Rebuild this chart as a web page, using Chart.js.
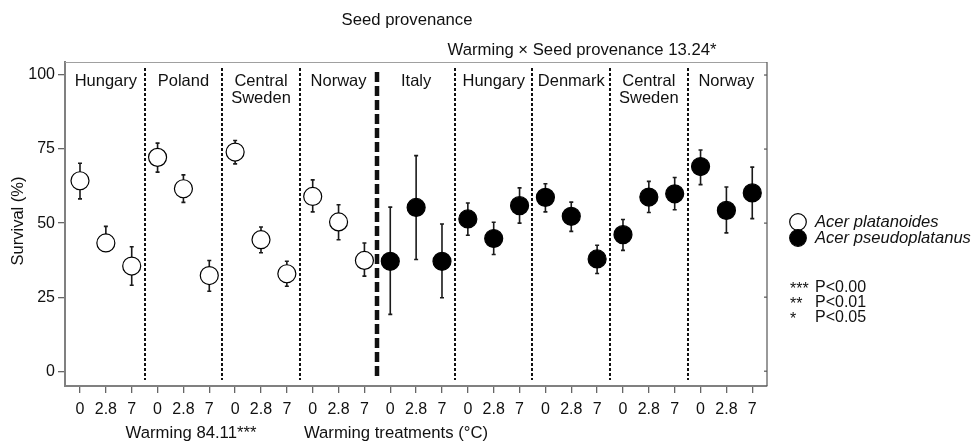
<!DOCTYPE html>
<html>
<head>
<meta charset="utf-8">
<script src="https://cdn.jsdelivr.net/npm/chart.js@4.4.1/dist/chart.umd.min.js"></script>
<style>
html,body{margin:0;padding:0;background:#fff;}
#wrap{width:974px;height:442px;}
</style>
</head>
<body>
<div id="wrap"><canvas id="c" width="974" height="442"></canvas></div>
<script>
// --- data ---
const treatments = ['0', '2.8', '7'];
const provenances = ['Hungary', 'Poland', 'Central\nSweden', 'Norway', 'Italy', 'Hungary', 'Denmark', 'Central\nSweden', 'Norway'];
const species = ['Acer platanoides', 'Acer pseudoplatanus'];

// Acer platanoides: Hungary, Poland, Central Sweden, Norway x (0, 2.8, 7)
const survPlatanoides = [64.3, 43.3, 35.5, 72.2, 61.6, 32.3, 74.0, 44.4, 32.9, 59.0, 50.4, 37.4];
const lowPlatanoides  = [58.2, 40.8, 29.0, 67.2, 57.0, 27.0, 70.0, 40.0, 28.7, 53.8, 44.4, 32.1];
const highPlatanoides = [70.2, 48.9, 42.0, 77.0, 66.3, 37.4, 77.9, 48.7, 37.1, 64.6, 56.2, 43.3];

// Acer pseudoplatanus: Italy, Hungary, Denmark, Central Sweden, Norway x (0, 2.8, 7)
const survPseudo = [37.1, 55.3, 37.1, 51.4, 44.8, 55.9, 58.7, 52.3, 37.9, 46.1, 58.8, 59.9, 69.1, 54.3, 60.2];
const lowPseudo  = [19.2, 37.7, 24.8, 45.9, 39.4, 50.0, 53.8, 47.2, 33.0, 40.8, 53.6, 54.5, 63.0, 46.7, 51.5];
const highPseudo = [55.4, 72.8, 49.7, 56.8, 50.3, 61.9, 63.3, 57.1, 42.5, 51.2, 64.1, 65.4, 74.7, 62.2, 68.9];

const yTicks = [0, 25, 50, 75, 100];
const sigNotes = [['***', 'P<0.00'], ['**', 'P<0.01'], ['*', 'P<0.05']];

// --- helpers ---
const FONT = '"Liberation Sans", Arial, Helvetica, sans-serif';
const nPl = survPlatanoides.length;
const xPositions = [];
for (let i = 0; i < nPl + survPseudo.length; i++) xPositions.push(i);

const errBars = [
  ...survPlatanoides.map((v, i) => ({ x: i, lo: lowPlatanoides[i], hi: highPlatanoides[i] })),
  ...survPseudo.map((v, i) => ({ x: i + nPl, lo: lowPseudo[i], hi: highPseudo[i] }))
];

const decor = {
  id: 'decor',
  beforeDatasetsDraw(chart) {
    const { ctx, scales: { x, y } } = chart;
    ctx.save();
    // group separators
    for (let g = 1; g < provenances.length; g++) {
      const px = Math.round(x.getPixelForValue(g * 3 - 0.5));
      const thick = (g * 3 === nPl);
      ctx.beginPath();
      ctx.strokeStyle = '#111';
      ctx.lineWidth = thick ? 4.5 : 2;
      ctx.setLineDash(thick ? [10, 4] : [3, 2]);
      ctx.moveTo(px, thick ? 72 : 68);
      ctx.lineTo(px, 380);
      ctx.stroke();
    }
    ctx.setLineDash([]);
    // error bars
    ctx.strokeStyle = '#1a1a1a';
    ctx.lineWidth = 1.6;
    errBars.forEach(b => {
      const px = x.getPixelForValue(b.x);
      const y1 = y.getPixelForValue(b.lo), y2 = y.getPixelForValue(b.hi);
      ctx.beginPath();
      ctx.moveTo(px, y1); ctx.lineTo(px, y2);
      ctx.moveTo(px - 2, y1); ctx.lineTo(px + 2, y1);
      ctx.moveTo(px - 2, y2); ctx.lineTo(px + 2, y2);
      ctx.stroke();
    });
    ctx.restore();
  },
  afterDraw(chart) {
    const { ctx, chartArea: a, scales: { x, y } } = chart;
    ctx.save();
    // frame: top and right
    ctx.strokeStyle = '#a0a0a0';
    ctx.lineWidth = 1;
    ctx.beginPath(); ctx.moveTo(a.left, a.top + 0.5); ctx.lineTo(a.right, a.top + 0.5); ctx.stroke();
    ctx.strokeStyle = '#555';
    ctx.lineWidth = 1.2;
    ctx.beginPath(); ctx.moveTo(a.right, a.top); ctx.lineTo(a.right, a.bottom); ctx.stroke();
    yTicks.forEach(v => {
      const py = y.getPixelForValue(v);
      ctx.beginPath(); ctx.moveTo(a.right - 3, py); ctx.lineTo(a.right, py); ctx.stroke();
    });

    ctx.fillStyle = '#111';
    ctx.textBaseline = 'middle';
    ctx.textAlign = 'center';
    // provenance labels
    ctx.font = '16.5px ' + FONT;
    provenances.forEach((p, g) => {
      const cx = x.getPixelForValue(g * 3 + 1);
      p.split('\n').forEach((line, k) => ctx.fillText(line, cx, 81 + k * 17));
    });
    // titles and stats
    ctx.font = '16.7px ' + FONT;
    ctx.fillText('Seed provenance', 407, 20);
    ctx.fillText('Warming \u00d7 Seed provenance 13.24*', 582, 50);
    ctx.fillText('Warming 84.11***', 191, 433);
    ctx.fillText('Warming treatments (\u00b0C)', 396, 433);
    // y title
    ctx.save();
    ctx.translate(18, 221);
    ctx.rotate(-Math.PI / 2);
    ctx.font = '16.5px ' + FONT;
    ctx.fillText('Survival (%)', 0, 0);
    ctx.restore();

    // legend
    ctx.textAlign = 'left';
    const fills = ['#fff', '#000'];
    species.forEach((s, i) => {
      const cy = 222 + i * 16;
      ctx.beginPath();
      ctx.arc(798, cy, 8.3, 0, Math.PI * 2);
      ctx.fillStyle = fills[i];
      ctx.fill();
      ctx.strokeStyle = '#000';
      ctx.lineWidth = 1.2;
      ctx.stroke();
      ctx.fillStyle = '#111';
      ctx.font = 'italic 16.6px ' + FONT;
      ctx.fillText(s, 815, cy);
    });
    ctx.font = '16px ' + FONT;
    sigNotes.forEach((n, i) => {
      const cy = 288 + i * 15;
      ctx.fillText(n[0], 790, cy + 2);
      ctx.fillText(n[1], 815, cy);
    });
    ctx.restore();
  }
};

new Chart(document.getElementById('c'), {
  type: 'scatter',
  data: {
    datasets: [
      {
        label: species[0],
        data: survPlatanoides.map((v, i) => ({ x: i, y: v })),
        pointRadius: 9, pointHoverRadius: 9,
        pointBackgroundColor: '#fff', pointBorderColor: '#000', pointBorderWidth: 1.2
      },
      {
        label: species[1],
        data: survPseudo.map((v, i) => ({ x: i + nPl, y: v })),
        pointRadius: 9, pointHoverRadius: 9,
        pointBackgroundColor: '#000', pointBorderColor: '#000', pointBorderWidth: 1.2
      }
    ]
  },
  options: {
    responsive: false,
    animation: false,
    events: [],
    layout: { padding: { top: 62, right: 207, left: 0, bottom: 0 } },
    plugins: { legend: { display: false }, tooltip: { enabled: false } },
    scales: {
      x: {
        type: 'linear', min: -0.58, max: 26.57,
        afterBuildTicks: s => { s.ticks = xPositions.map(v => ({ value: v })); },
        afterFit: s => { s.height = 56; },
        ticks: {
          callback: v => treatments[Math.round(v) % 3],
          color: '#111', font: { family: FONT, size: 16 }, padding: 7,
          maxRotation: 0, autoSkip: false
        },
        grid: { drawOnChartArea: false, tickLength: 7, color: '#666', lineWidth: 1.3 },
        border: { color: '#808080', width: 2 }
      },
      y: {
        min: -5, max: 104.4,
        afterBuildTicks: s => { s.ticks = yTicks.map(v => ({ value: v })); },
        afterFit: s => { s.width = 65; },
        ticks: { color: '#111', font: { family: FONT, size: 16 }, padding: 3 },
        grid: { drawOnChartArea: false, tickLength: 7, color: '#666', lineWidth: 1.3 },
        border: { color: '#808080', width: 2 }
      }
    }
  },
  plugins: [decor]
});
</script>
</body>
</html>
